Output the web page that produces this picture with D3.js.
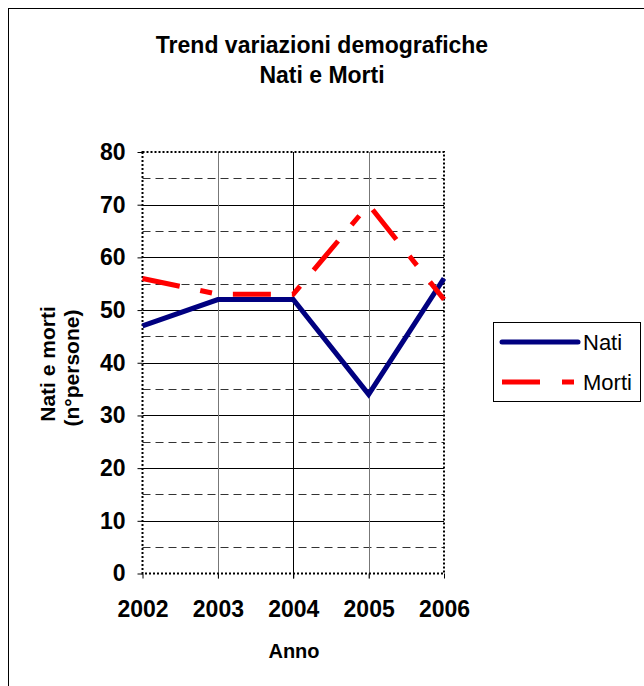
<!DOCTYPE html>
<html>
<head>
<meta charset="utf-8">
<script src="https://cdn.jsdelivr.net/npm/d3@7"></script>
<style>
  body { margin: 0; background: #fff; }
  svg text { font-family: "Liberation Sans", Arial, sans-serif; }
</style>
</head>
<body>
<div id="chart"></div>
<script>
// data
var years = ["2002", "2003", "2004", "2005", "2006"];
var nati = [47, 52, 52, 34, 56];
var morti = [56, 53, 53, 70, 52];
var yTicks = [0, 10, 20, 30, 40, 50, 60, 70, 80];
var yMinor = [5, 15, 25, 35, 45, 55, 65, 75];

var width = 644;
var height = 686;

var plotLeft = 142.5, plotRight = 444, plotTop = 152, plotBottom = 573.5;

var svg = d3.select("#chart")
  .append("svg")
  .attr("width", width)
  .attr("height", height);

// outer chart frame
svg.append("rect")
  .attr("x", 8.5).attr("y", 8.5)
  .attr("width", 640).attr("height", 700)
  .attr("fill", "#fff")
  .attr("stroke", "#000")
  .attr("stroke-width", 1);

var x = d3.scalePoint().domain(years).range([plotLeft, plotRight]).padding(0);
var y = d3.scaleLinear().domain([0, 80]).range([plotBottom, plotTop]);

// minor dashed gridlines
svg.append("g").selectAll("line")
  .data(yMinor).enter()
  .append("line")
  .attr("x1", plotLeft).attr("x2", plotRight)
  .attr("y1", function(d) { return Math.round(y(d)) + 0.5; })
  .attr("y2", function(d) { return Math.round(y(d)) + 0.5; })
  .attr("stroke", "#333")
  .attr("stroke-width", 1)
  .attr("stroke-dasharray", "8,5");

// major gridlines
svg.append("g").selectAll("line")
  .data(yTicks.slice(1, -1)).enter()
  .append("line")
  .attr("x1", plotLeft).attr("x2", plotRight)
  .attr("y1", function(d) { return Math.round(y(d)) + 0.5; })
  .attr("y2", function(d) { return Math.round(y(d)) + 0.5; })
  .attr("stroke", "#000")
  .attr("stroke-width", 1);

// vertical gridlines
svg.append("g").selectAll("line")
  .data(years.slice(1, -1)).enter()
  .append("line")
  .attr("x1", function(d) { return Math.round(x(d)) + 0.5; })
  .attr("x2", function(d) { return Math.round(x(d)) + 0.5; })
  .attr("y1", plotTop).attr("y2", plotBottom + 5)
  .attr("stroke", function(d, i) { return i % 2 === 0 ? "#777" : "#000"; })
  .attr("stroke-width", 1);

// dotted plot border
svg.append("rect")
  .attr("x", plotLeft).attr("y", plotTop)
  .attr("width", plotRight - plotLeft).attr("height", plotBottom - plotTop)
  .attr("fill", "none")
  .attr("stroke", "#000")
  .attr("stroke-width", 2)
  .attr("stroke-dasharray", "2,2");

// axes
var yAxis = d3.axisLeft(y).tickValues(yTicks).tickSize(5).tickPadding(12);
var gy = svg.append("g")
  .attr("transform", "translate(" + plotLeft + ",0)")
  .call(yAxis);
gy.select(".domain").remove();
gy.selectAll("text")
  .attr("font-size", 23).attr("font-weight", "bold").attr("fill", "#000")
  .attr("font-family", "Liberation Sans, Arial, sans-serif");

var xAxis = d3.axisBottom(x).tickSize(5).tickPadding(22);
var gx = svg.append("g")
  .attr("transform", "translate(0," + plotBottom + ")")
  .call(xAxis);
gx.select(".domain").remove();
gx.selectAll("text")
  .attr("font-size", 23).attr("font-weight", "bold").attr("fill", "#000")
  .attr("font-family", "Liberation Sans, Arial, sans-serif");

// lines
var line = d3.line()
  .x(function(d, i) { return x(years[i]); })
  .y(function(d) { return y(d); });

svg.append("path")
  .datum(nati)
  .attr("d", line)
  .attr("fill", "none")
  .attr("stroke", "#000080")
  .attr("stroke-width", 5)
  .attr("stroke-linejoin", "miter");

svg.append("path")
  .datum(morti)
  .attr("d", line)
  .attr("fill", "none")
  .attr("stroke", "#ff0000")
  .attr("stroke-width", 5)
  .attr("stroke-dasharray", "38,21,12,21");

// titles
svg.append("text")
  .attr("x", 322).attr("y", 53)
  .attr("text-anchor", "middle")
  .attr("font-size", 23).attr("font-weight", "bold")
  .text("Trend variazioni demografiche");
svg.append("text")
  .attr("x", 322).attr("y", 83)
  .attr("text-anchor", "middle")
  .attr("font-size", 23).attr("font-weight", "bold")
  .text("Nati e Morti");

svg.append("text")
  .attr("x", 294).attr("y", 658)
  .attr("text-anchor", "middle")
  .attr("font-size", 20).attr("font-weight", "bold")
  .text("Anno");

var yt = svg.append("text")
  .attr("transform", "translate(55,364)rotate(-90)")
  .attr("text-anchor", "middle")
  .attr("font-size", 21).attr("font-weight", "bold");
yt.append("tspan").attr("x", 0).attr("y", 0).text("Nati e morti");
yt.append("tspan").attr("x", -4).attr("y", 24).text("(n°persone)");

// legend
var lg = svg.append("g");
lg.append("rect")
  .attr("x", 493.5).attr("y", 322.5)
  .attr("width", 147).attr("height", 79)
  .attr("fill", "#fff")
  .attr("stroke", "#000")
  .attr("stroke-width", 1);
lg.append("line")
  .attr("x1", 502).attr("x2", 578).attr("y1", 342).attr("y2", 342)
  .attr("stroke", "#000080").attr("stroke-width", 5)
  .attr("stroke-linecap", "round");
lg.append("text")
  .attr("x", 583).attr("y", 350)
  .attr("font-size", 22)
  .text("Nati");
lg.append("line")
  .attr("x1", 502).attr("x2", 574).attr("y1", 382).attr("y2", 382)
  .attr("stroke", "#ff0000").attr("stroke-width", 5)
  .attr("stroke-dasharray", "38,22,12,21");
lg.append("text")
  .attr("x", 583).attr("y", 390)
  .attr("font-size", 22)
  .text("Morti");
</script>
</body>
</html>
